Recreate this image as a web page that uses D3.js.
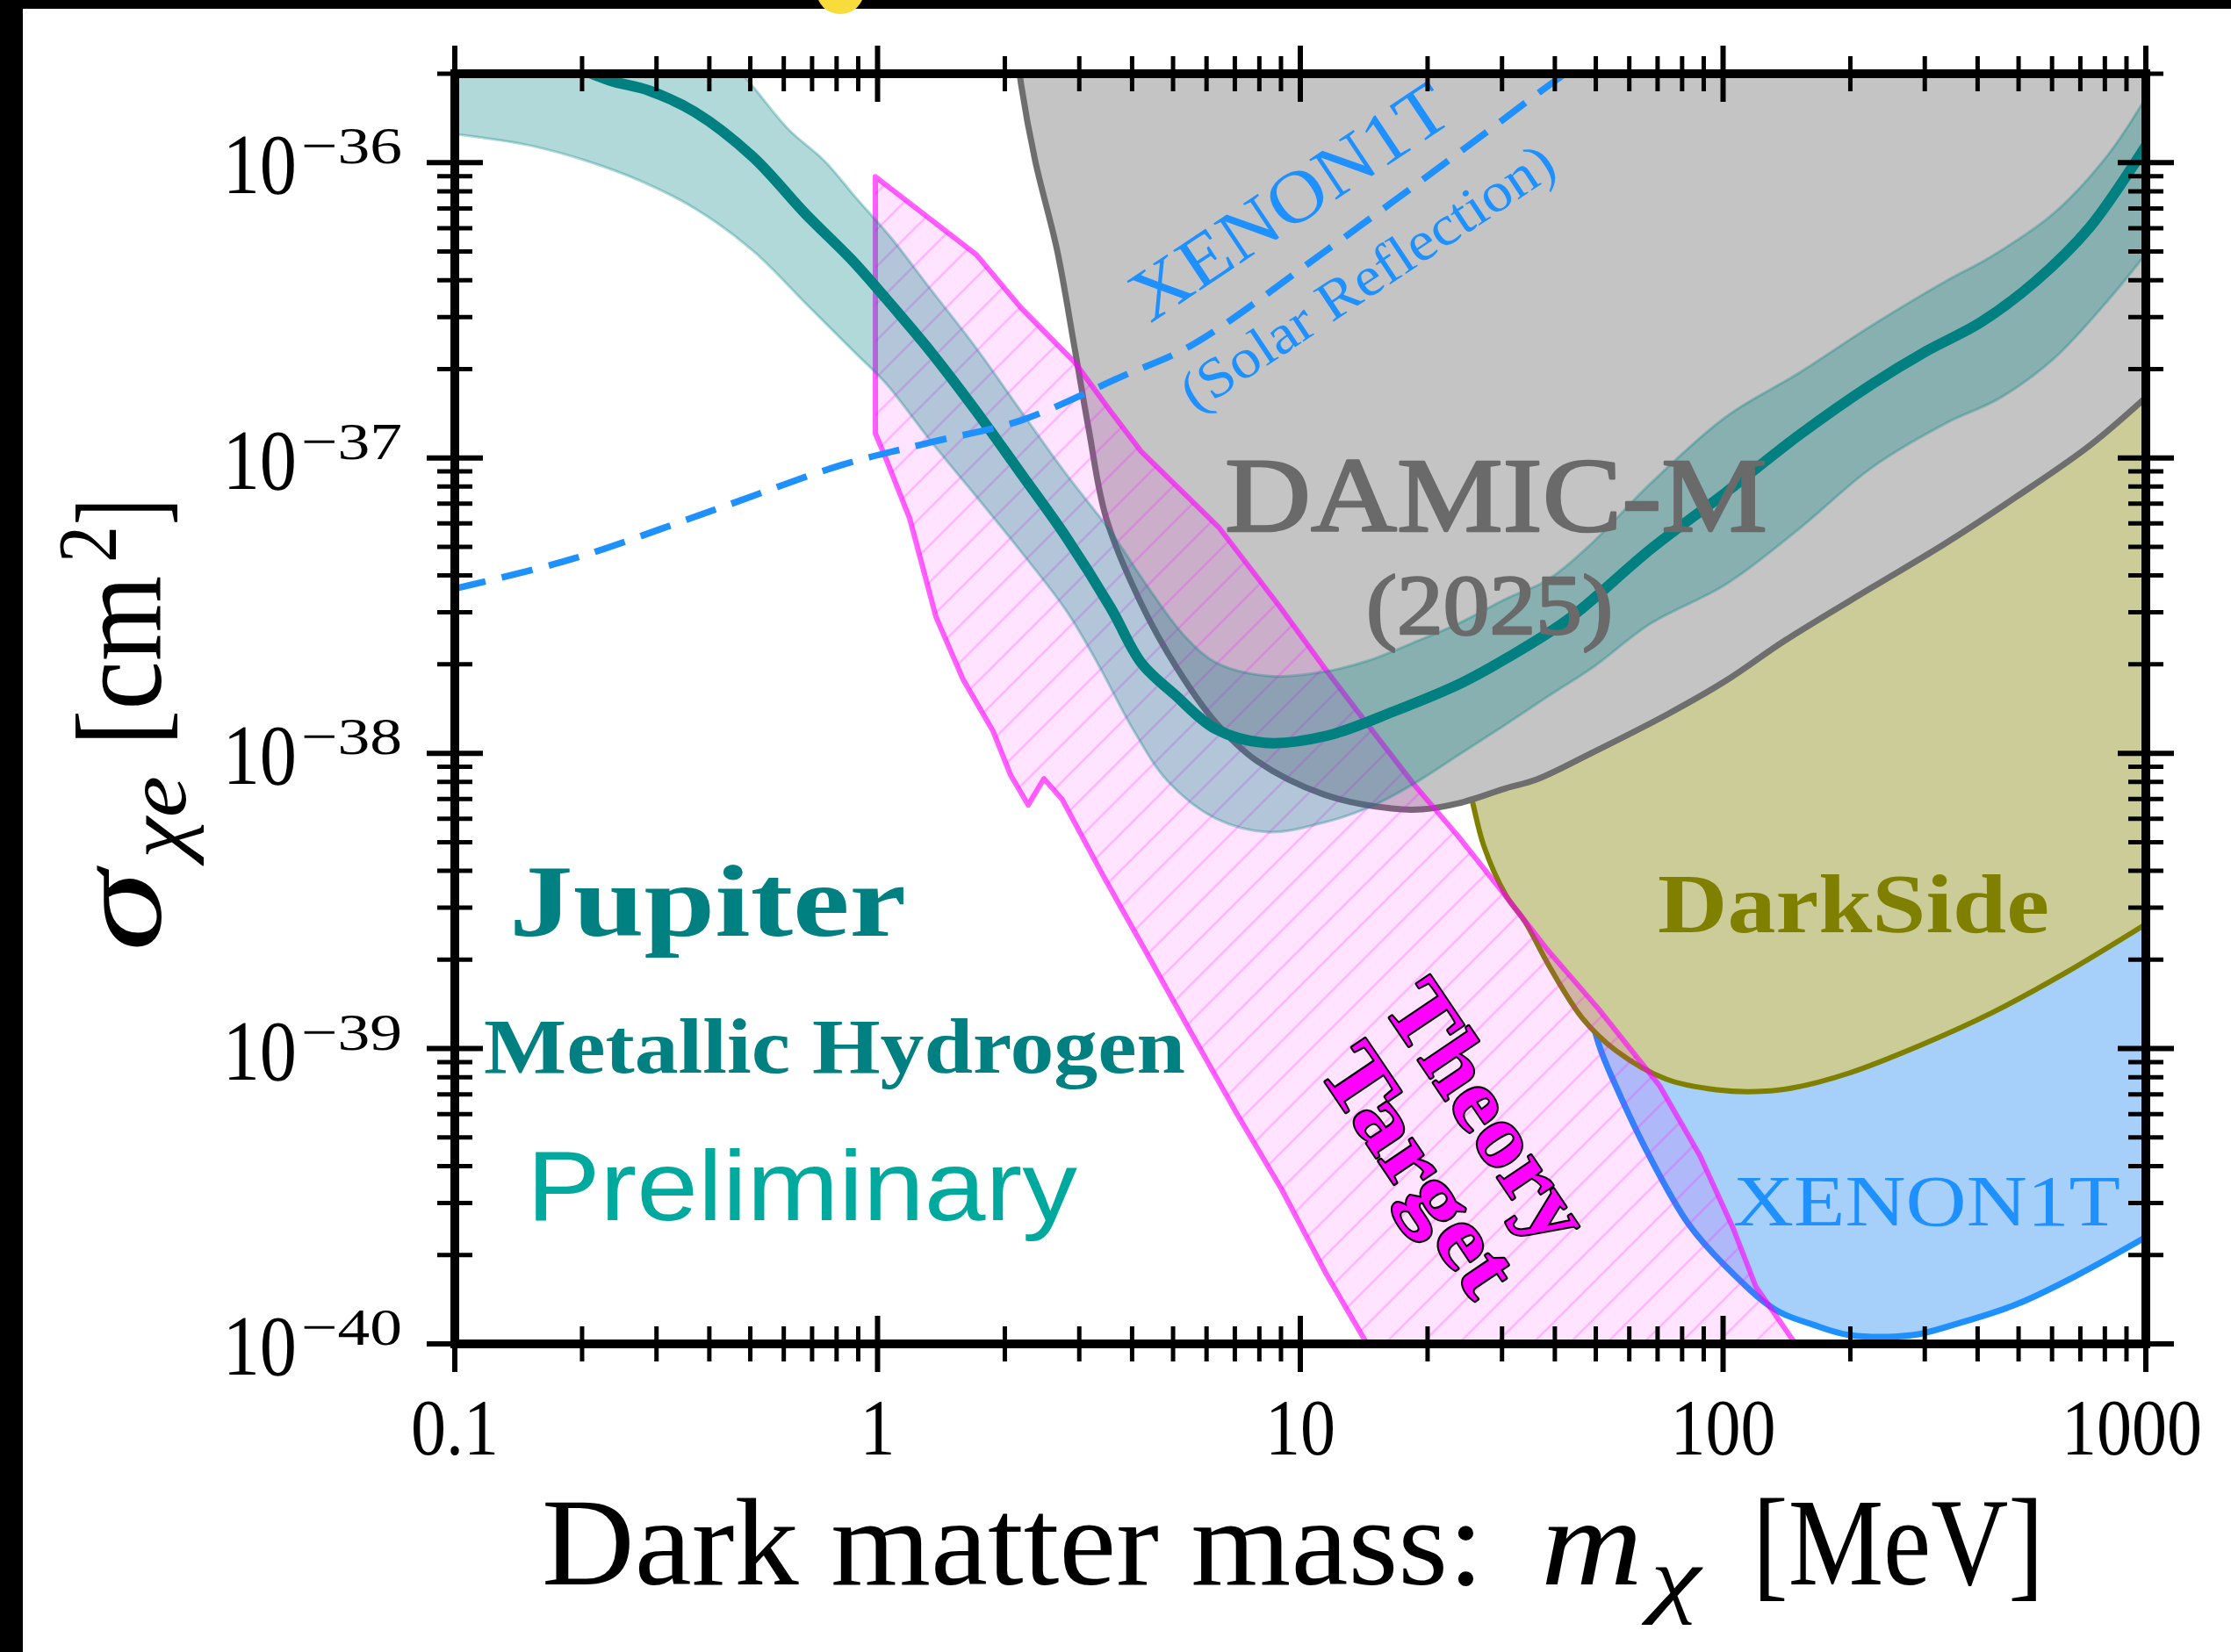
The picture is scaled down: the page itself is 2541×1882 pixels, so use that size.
<!DOCTYPE html>
<html><head><meta charset="utf-8">
<script src="https://cdn.jsdelivr.net/npm/d3@7"></script>
<style>
html,body{margin:0;padding:0;background:#fff;}
svg{display:block;}
</style></head><body>
<svg id="chart" width="2541" height="1882"></svg>
<script>
// ---------------- data (mass in MeV, cross-section in cm^2) ----------------
const xTickValues = [0.1, 1, 10, 100, 1000];
const xTickLabels = ["0.1", "1", "10", "100", "1000"];
const yTickValues = [1e-36, 1e-37, 1e-38, 1e-39, 1e-40];
const yTickExponents = ["\u221236", "\u221237", "\u221238", "\u221239", "\u221240"];

const jupiterCenter = [[0.148,2.59e-36],[0.1879,2.15e-36],[0.2319,1.90e-36],[0.2891,1.75e-36],[0.369,1.486e-36],[0.5058,1.049e-36],[0.6771,6.68e-37],[0.8644,4.72e-37],[1.051,3.44e-37],[1.342,2.27e-37],[1.713,1.437e-37],[2.186,8.84e-38],[2.790,5.41e-38],[3.560,3.11e-38],[4.209,2.02e-38],[5.047,1.58e-38],[6.288,1.211e-38],[8.22,1.085e-38],[11.54,1.146e-38],[16.68,1.388e-38],[23.99,1.727e-38],[30.62,2.09e-38],[43.0,2.84e-38],[67.4,4.91e-38],[101.7,7.66e-38],[151.2,1.194e-37],[224.9,1.776e-37],[302.6,2.30e-37],[407,2.88e-37],[547,3.95e-37],[736,6.03e-37],[1000,1.139e-36]];
const jupiterUpper = [[0.1,7.98e-36],[0.2388,4.63e-36],[0.3852,2.68e-36],[0.4825,1.967e-36],[0.6153,1.297e-36],[0.7487,1.014e-36],[0.885,7.66e-37],[1.077,5.56e-37],[1.342,3.69e-37],[1.713,2.35e-37],[2.186,1.437e-37],[2.790,8.84e-38],[3.560,5.63e-38],[4.415,3.56e-38],[5.345,2.48e-38],[6.35,2.02e-38],[8.50,1.824e-38],[11.38,1.888e-38],[14.52,2.06e-38],[18.53,2.37e-38],[23.65,2.75e-38],[30.62,3.33e-38],[38.53,3.87e-38],[48.5,5.08e-38],[67.4,8.20e-38],[101.7,1.379e-37],[151.2,1.94e-37],[224.9,2.81e-37],[334.5,3.95e-37],[431,4.81e-37],[605,6.73e-37],[814,1.063e-36],[1000,1.659e-36]];
const jupiterLower = [[0.1,1.25e-36],[0.1494,1.146e-36],[0.2049,1.014e-36],[0.2756,8.66e-37],[0.369,7.01e-37],[0.5058,5.05e-37],[0.6771,3.33e-37],[0.885,2.27e-37],[1.051,1.776e-37],[1.342,1.131e-37],[1.713,7.40e-38],[2.186,4.81e-38],[2.790,3.05e-38],[3.313,2.02e-38],[4.012,1.211e-38],[4.858,8.04e-39],[6.288,6.03e-39],[8.42,5.41e-39],[11.38,5.83e-39],[14.52,6.55e-39],[18.53,7.87e-39],[23.65,9.86e-39],[30.19,1.236e-38],[38.53,1.559e-38],[49.2,1.954e-38],[67.4,2.75e-38],[101.7,3.74e-38],[151.2,5.75e-38],[224.9,9.28e-38],[334.5,1.305e-37],[450,1.591e-37],[605,2.165e-37],[814,3.42e-37],[1000,4.91e-37]];

const damicM = [[2.154,2.18e-36],[2.186,1.836e-36],[2.360,1.014e-36],[2.659,5.05e-37],[2.926,2.35e-37],[3.158,1.253e-37],[3.475,6.24e-38],[4.209,3.20e-38],[5.096,1.954e-38],[6.288,1.279e-38],[7.91,9.40e-39],[11.38,7.25e-39],[16.44,6.50e-39],[19.44,6.46e-39],[23.65,6.77e-39],[30.62,7.61e-39],[36.2,8.15e-39],[49.2,1.007e-38],[74.2,1.36e-38],[101.7,1.763e-38],[139.5,2.40e-38],[224.9,3.64e-38],[334.5,5.12e-38],[495,7.40e-38],[736,1.10e-37],[1000,1.602e-37]];

const darkSide = [[21.39,2.94e-38],[24.1,9.86e-39],[25.53,6.87e-39],[27.18,4.85e-39],[30.62,3.31e-39],[34.0,2.69e-39],[38.7,1.913e-39],[46.4,1.27e-39],[55.7,9.86e-40],[73.5,7.87e-40],[96.5,7.25e-40],[119.6,7.15e-40],[145.6,7.35e-40],[198.6,8.26e-40],[294,1.028e-39],[433,1.323e-39],[638,1.788e-39],[1000,2.64e-39]];

const xenon1T = [[45.97,1.913e-39],[50.8,1.035e-39],[55.7,7.50e-40],[66.8,4.35e-40],[82.8,2.55e-40],[101.2,1.836e-40],[132.9,1.305e-40],[163.3,1.162e-40],[199.6,1.071e-40],[280.3,1.071e-40],[351,1.162e-40],[493,1.36e-40],[692,1.716e-40],[1000,2.30e-40]];

const xenonSolar = [[0.1,3.61e-38],[0.1907,4.56e-38],[0.3963,6.55e-38],[0.8236,9.47e-38],[1.342,1.131e-37],[2.186,1.341e-37],[3.824,1.901e-37],[5.501,2.397e-37],[11.6,5.08e-37],[27.96,1.288e-36],[36.03,1.693e-36],[43.8,2.077e-36]];

const theoryTarget = [[0.988,8.96e-37],[1.713,4.88e-37],[2.186,3.22e-37],[2.926,2.11e-37],[3.560,1.437e-37],[4.209,1.049e-37],[6.41,5.83e-38],[8.92,3.15e-38],[11.38,1.954e-38],[14.52,1.236e-38],[18.53,7.87e-39],[23.65,5.23e-39],[30.19,3.37e-39],[38.53,2.15e-39],[50.8,1.36e-39],[70.7,7.50e-40],[88.1,4.35e-40],[105.7,2.46e-40],[119.6,1.56e-40],[148.4,1.0e-40],[175,7.0e-41],[16.3,7.0e-41],[14.38,1.0e-40],[11.54,1.716e-40],[9.04,3.33e-40],[7.09,5.99e-40],[5.55,1.115e-39],[4.35,2.08e-39],[3.41,3.87e-39],[2.736,6.96e-39],[2.475,8.20e-39],[2.271,6.68e-39],[2.064,8.43e-39],[1.876,1.187e-38],[1.594,1.775e-38],[1.374,2.90e-38],[1.191,6.24e-38],[1.051,9.80e-38],[0.988,1.211e-37]];

// ---------------- layout ----------------
const W = 2541, H = 1882;
const plot = {left: 518, right: 2444, top: 84, bottom: 1531};
const SERIF = "'Liberation Serif','DejaVu Serif',serif";
const SANS = "'Liberation Sans',Arial,sans-serif";

const svg = d3.select("#chart");
svg.append("rect").attr("width", W).attr("height", H).attr("fill", "#fff");

const x = d3.scaleLog().domain([0.1, 1000]).range([plot.left, plot.right]);
const y = d3.scaleLog().domain([1e-40, 2e-36]).range([plot.bottom, plot.top]);

const defs = svg.append("defs");
defs.append("clipPath").attr("id", "plotClip").append("rect")
  .attr("x", plot.left).attr("y", plot.top)
  .attr("width", plot.right - plot.left).attr("height", plot.bottom - plot.top);
const pat = defs.append("pattern").attr("id", "hatch")
  .attr("patternUnits", "userSpaceOnUse").attr("width", 42).attr("height", 42);
pat.append("path").attr("d", "M-10,10 L10,-10 M0,42 L42,0 M32,52 L52,32")
  .attr("stroke", "#ff00ff").attr("stroke-opacity", 0.2).attr("stroke-width", 2.5);

const g = svg.append("g").attr("clip-path", "url(#plotClip)");
const curve = d3.curveCatmullRom.alpha(0.5);
const line = d3.line().x(d => x(d[0])).y(d => y(d[1])).curve(curve);
const lineLin = d3.line().x(d => x(d[0])).y(d => y(d[1]));
const areaTop = d3.area().x(d => x(d[0])).y0(y(1e-35)).y1(d => y(d[1])).curve(curve);

// XENON1T
g.append("path").attr("d", areaTop(xenon1T)).attr("fill", "#a6d0fa");
g.append("path").attr("d", line(xenon1T)).attr("fill", "none").attr("stroke", "#1e90ff").attr("stroke-width", 7);
// DarkSide
g.append("path").attr("d", areaTop(darkSide)).attr("fill", "#cccc99");
g.append("path").attr("d", line(darkSide)).attr("fill", "none").attr("stroke", "#808000").attr("stroke-width", 6);
// DAMIC-M
g.append("path").attr("d", areaTop(damicM)).attr("fill", "#c4c4c4");
g.append("path").attr("d", line(damicM)).attr("fill", "none").attr("stroke", "#6e6e6e").attr("stroke-width", 7);
// Theory target
const ttPath = lineLin(theoryTarget) + "Z";
g.append("path").attr("d", ttPath).attr("fill", "#ff00ff").attr("fill-opacity", 0.11);
g.append("path").attr("d", ttPath).attr("fill", "url(#hatch)");
g.append("path").attr("d", ttPath).attr("fill", "none").attr("stroke", "#ff00ff")
  .attr("stroke-opacity", 0.62).attr("stroke-width", 6).attr("stroke-linejoin", "round");
// Jupiter band
const bandPath = line(jupiterUpper) + line(jupiterLower.slice().reverse()).replace(/^M/, "L") + "Z";
g.append("path").attr("d", bandPath).attr("fill", "#008080").attr("fill-opacity", 0.3);
[jupiterUpper, jupiterLower].forEach(s => g.append("path").attr("d", line(s)).attr("fill", "none")
  .attr("stroke", "#008080").attr("stroke-opacity", 0.3).attr("stroke-width", 3));
g.append("path").attr("d", line(jupiterCenter)).attr("fill", "none").attr("stroke", "#008080").attr("stroke-width", 12);
// XENON1T solar reflection
g.append("path").attr("d", line(xenonSolar)).attr("fill", "none").attr("stroke", "#1e90ff")
  .attr("stroke-width", 7.5).attr("stroke-dasharray", "36,19");

// ---------------- annotations ----------------
function txt(s, px, py, o) {
  const t = svg.append("text").attr("x", px).attr("y", py).text(s)
    .attr("font-family", o.family || SERIF).attr("font-size", o.size)
    .attr("fill", o.fill || "#000");
  if (o.weight) t.attr("font-weight", o.weight);
  if (o.style) t.attr("font-style", o.style);
  if (o.anchor) t.attr("text-anchor", o.anchor);
  if (o.len) t.attr("textLength", o.len).attr("lengthAdjust", "spacingAndGlyphs");
  if (o.rot !== undefined) t.attr("x", 0).attr("y", 0).attr("transform", `translate(${px},${py}) rotate(${o.rot})`);
  if (o.dy) t.attr("dy", o.dy);
  if (o.stroke) t.attr("stroke", o.stroke).attr("stroke-width", o.sw).attr("paint-order", "stroke").attr("stroke-linejoin", "round");
  return t;
}
txt("DAMIC-M", 1395, 605, {size: 121, fill: "#6a6a6a", len: 618, stroke: "#6a6a6a", sw: 2.5});
txt("(2025)", 1556, 722, {size: 98, fill: "#6a6a6a", len: 281, stroke: "#6a6a6a", sw: 2.5});
txt("DarkSide", 1888, 1062, {size: 96, weight: "bold", fill: "#808000", len: 446});
txt("XENON1T", 1974, 1396, {size: 82, fill: "#1e90ff", len: 441});
txt("Jupiter", 580, 1066, {size: 116, weight: "bold", fill: "#008080", len: 452});
txt("Metallic Hydrogen", 551, 1222, {size: 88, weight: "bold", fill: "#008080", len: 799});
txt("Preliminary", 600, 1390, {size: 113, family: SANS, fill: "#00a99d", len: 627});
txt("XENON1T", 1468, 229, {size: 84, fill: "#1e90ff", len: 418, rot: -33.7, anchor: "middle", dy: "0.34em"});
txt("(Solar Reflection)", 1560, 320, {size: 64, fill: "#1e90ff", len: 497, rot: -33.5, anchor: "middle", dy: "0.25em"});
txt("Theory", 1692, 1268, {size: 100, weight: "bold", fill: "#ff00ff", len: 335, rot: 56, anchor: "middle", dy: "0.3em", stroke: "#000", sw: 4});
txt("Target", 1614, 1334, {size: 100, weight: "bold", fill: "#ff00ff", len: 320, rot: 56, anchor: "middle", dy: "0.3em", stroke: "#000", sw: 4});

// ---------------- axes ----------------
const ax = svg.append("g");
ax.append("rect").attr("x", plot.left).attr("y", plot.top)
  .attr("width", plot.right - plot.left).attr("height", plot.bottom - plot.top)
  .attr("fill", "none").attr("stroke", "#000").attr("stroke-width", 10);

const xMinor = [];
[0.1, 1, 10, 100].forEach(d => { for (let k = 2; k <= 9; k++) xMinor.push(d * k); });
const yMinor = [];
[1e-40, 1e-39, 1e-38, 1e-37].forEach(d => { for (let k = 2; k <= 9; k++) yMinor.push(d * k); });
yMinor.push(2e-36);

function xt(vals, L, w) {
  vals.forEach(v => {
    [plot.top, plot.bottom].forEach(yy => ax.append("line")
      .attr("x1", x(v)).attr("x2", x(v)).attr("y1", yy - L).attr("y2", yy + L)
      .attr("stroke", "#000").attr("stroke-width", w));
  });
}
function yt(vals, L, w) {
  vals.forEach(v => {
    [plot.left, plot.right].forEach(xx => ax.append("line")
      .attr("y1", y(v)).attr("y2", y(v)).attr("x1", xx - L).attr("x2", xx + L)
      .attr("stroke", "#000").attr("stroke-width", w));
  });
}
xt(xMinor, 20, 5); xt(xTickValues, 32, 6);
yt(yMinor, 20, 5); yt(yTickValues, 32, 6);

function condense(t, k) {
  const L = t.node().getComputedTextLength();
  t.attr("textLength", L * k).attr("lengthAdjust", "spacingAndGlyphs");
}
xTickValues.forEach((v, i) => {
  const cx = Math.min(x(v), W - 113);
  const t = txt(xTickLabels[i], cx, 1657, {size: 92, anchor: "middle"});
  condense(t, 0.87);
});
yTickValues.forEach((v, i) => {
  const t = txt("10", 338, y(v) + 35, {size: 98, anchor: "end"});
  condense(t, 0.86);
  txt(yTickExponents[i], 343, y(v) + 1, {size: 60, len: 115});
});

// axis titles
txt("Dark matter mass:", 617, 1805, {size: 142, len: 1073});
txt("m", 1755, 1805, {size: 142, style: "italic", len: 116});
txt("\u03c7", 1880, 1830, {size: 98, style: "italic", len: 57});
txt("[MeV]", 1996, 1805, {size: 142, len: 332});

txt("\u03c3", 183, 1084, {size: 140, style: "italic", len: 92, rot: -90});
txt("\u03c7e", 211, 978, {size: 98, style: "italic", len: 94, rot: -90});
txt("[cm", 183, 850, {size: 140, len: 194, rot: -90});
txt("2", 132, 641, {size: 96, len: 42, rot: -90});
txt("]", 183, 598, {size: 140, len: 30, rot: -90});

// frame of the screenshot
svg.append("rect").attr("x", 0).attr("y", 0).attr("width", W).attr("height", 10).attr("fill", "#000");
svg.append("rect").attr("x", 0).attr("y", 0).attr("width", 26).attr("height", H).attr("fill", "#000");
svg.append("ellipse").attr("cx", 957).attr("cy", -10).attr("rx", 27).attr("ry", 26).attr("fill", "#f7dc3c");
</script>
</body></html>
